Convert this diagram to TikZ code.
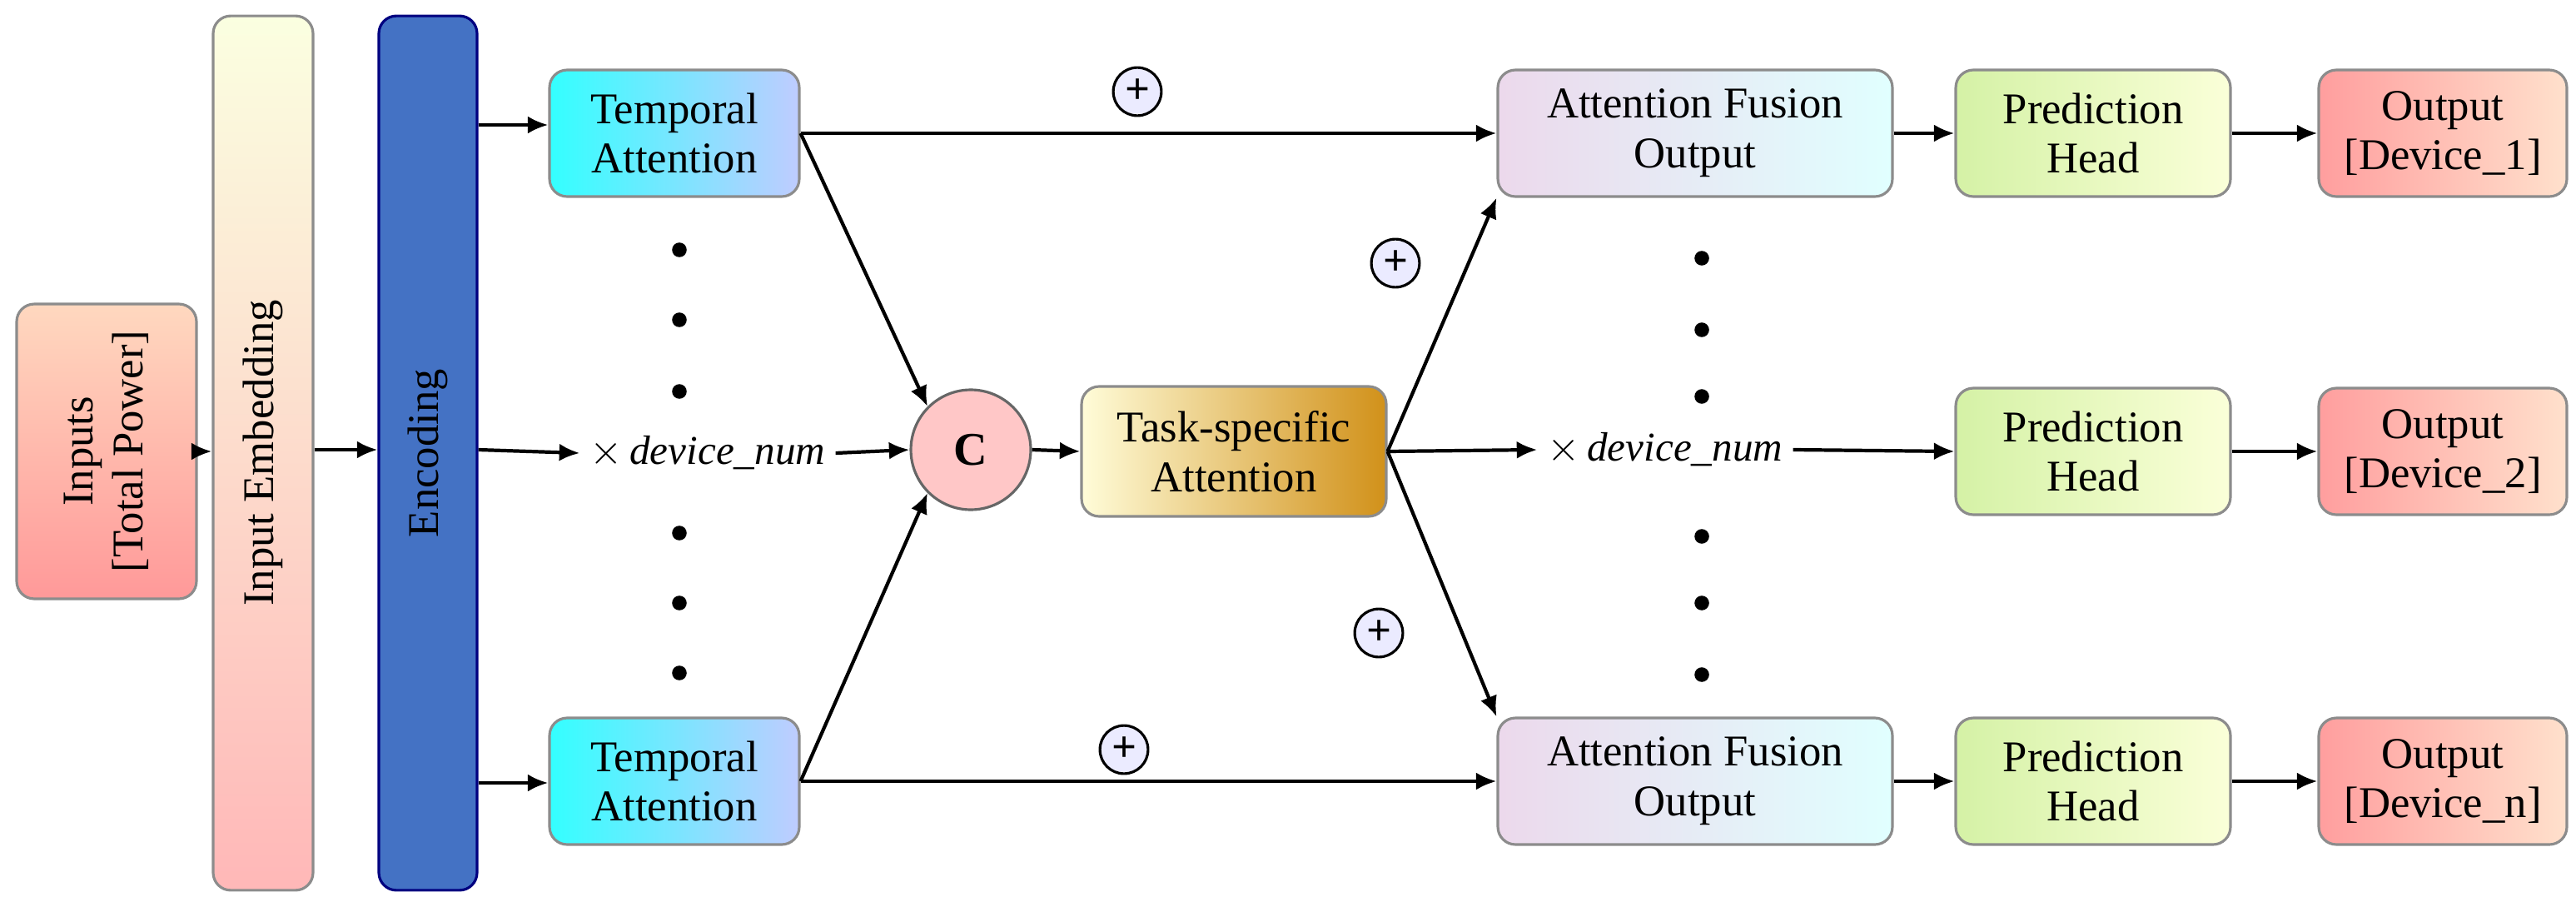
\documentclass[tikz,border=0pt]{standalone}
\usepackage{fontspec}
\setmainfont{Liberation Serif}
\usetikzlibrary{arrows.meta,calc}
\begin{document}
\begin{tikzpicture}[x=0.02cm,y=-0.02cm,
  box/.style={draw=black!45,line width=0.9pt,rounded corners=6pt,align=center,font=\fontsize{15}{17}\selectfont,inner sep=0pt},
  arr/.style={-{Latex[length=7pt,width=6pt]},line width=1.2pt},
  dot/.style={circle,fill=black,inner sep=0pt,minimum size=5pt},
  plus/.style={circle,draw=black,line width=0.9pt,fill=blue!8,inner sep=0pt,minimum size=29pt*0.567,font=\fontsize{15}{15}\selectfont\bfseries},
  lbl/.style={font=\fontsize{14}{16}\selectfont}]
\useasboundingbox (0,0) rectangle (1547,544);
% left column
\node[box,minimum width=3.54cm,minimum height=2.16cm,top color=red!22!orange!25,bottom color=red!40,rotate=90] (in) at (64,271) {Inputs\\{[Total Power]}};
\node[box,minimum width=10.5cm,minimum height=1.2cm,bottom color=red!28,top color=green!15!yellow!12,rotate=90] (emb) at (158,272) {Input Embedding};
\node[box,draw=blue!50!black,minimum width=10.5cm,minimum height=1.18cm,rotate=90,fill={rgb,255:red,68;green,114;blue,196}] (enc) at (257,272) {Encoding};
% temporal attention
\node[box,minimum width=3cm,minimum height=1.52cm,left color=cyan!80,right color=cyan!20!blue!25] (ta1) at (405,80) {Temporal\\Attention};
\node[box,minimum width=3cm,minimum height=1.52cm,left color=cyan!80,right color=cyan!20!blue!25] (ta2) at (405,469) {Temporal\\Attention};
\foreach \y in {150,192,235,320,362,404} \node[dot] at (408,\y) {};
\node[lbl] (dn1) at (425,272) {$\times$\,\textit{device\_num}};
\node[circle,draw=black!60,line width=0.9pt,fill=red!22,minimum size=1.44cm,font=\fontsize{16}{16}\selectfont\bfseries] (c) at (583,270) {C};
\node[box,minimum width=3.66cm,minimum height=1.56cm,left color=orange!15!yellow!15,right color=orange!70!yellow!80!black!90] (task) at (741,271) {Task-specific\\Attention};
\node[lbl] (dn2) at (1000,270) {$\times$\,\textit{device\_num}};
% fusion
\node[box,minimum width=4.74cm,minimum height=1.52cm,left color=violet!15,right color=cyan!12] (af1) at (1018,80) {Attention Fusion\\Output};
\node[box,minimum width=4.74cm,minimum height=1.52cm,left color=violet!15,right color=cyan!12] (af2) at (1018,469) {Attention Fusion\\Output};
\foreach \y in {155,198,238,322,362,405} \node[dot] at (1022,\y) {};
% heads and outputs
\foreach \i/\y/\t in {1/80/1,2/271/2,3/469/n}{
  \node[box,minimum width=3.3cm,minimum height=1.52cm,left color=green!50!black!30!lime!35,right color=green!12!yellow!15] (ph\i) at (1257,\y) {Prediction\\Head};
  \node[box,minimum width=2.98cm,minimum height=1.52cm,left color=red!38,right color=red!20!orange!20] (out\i) at (1467,\y) {Output\\{[Device\_\t]}};
  \draw[arr] (ph\i.east) -- (out\i.west);
}
\draw[arr] (af1.east) -- (ph1.west);
\draw[arr] (af2.east) -- (ph3.west);
% plus signs
\node[plus] at (683,55) {+};
\node[plus] at (838,158) {+};
\node[plus] at (828,380) {+};
\node[plus] at (675,450) {+};
% arrows
\draw[arr] (in.south) -- (emb.north |- in.south);
\draw[arr] (emb.south |- 0,270) -- (enc.north |- 0,270);
\draw[arr] (enc.south |- 0,75) -- (ta1.west |- 0,75);
\draw[arr] (enc.south |- 0,470) -- (ta2.west |- 0,470);
\draw[arr] (enc.south |- 0,270) -- (dn1.west);
\draw[arr] (dn1.east) -- (c.west);
\draw[arr] (ta1.east) -- (c.north west);
\draw[arr] (ta2.east) -- (c.south west);
\draw[arr] (ta1.east) -- (af1.west);
\draw[arr] (ta2.east) -- (af2.west);
\draw[arr] (c.east) -- (task.west);
\draw[arr] (task.east) -- (af1.south west);
\draw[arr] (task.east) -- (af2.north west);
\draw[arr] (task.east) -- (dn2.west);
\draw[arr] (dn2.east) -- (ph2.west);
\end{tikzpicture}
\end{document}
